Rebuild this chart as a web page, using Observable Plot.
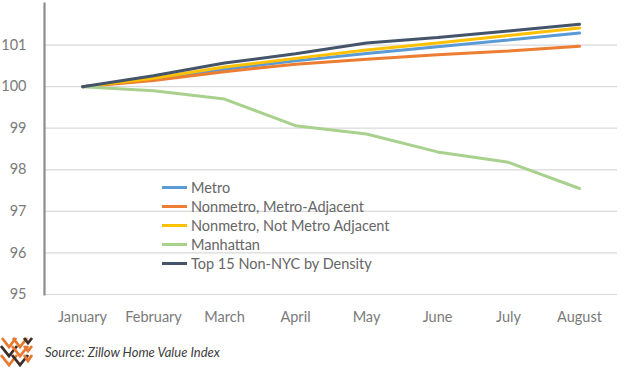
<!DOCTYPE html>
<html>
<head>
<meta charset="utf-8">
<script src="https://cdn.jsdelivr.net/npm/d3@7"></script>
<script src="https://cdn.jsdelivr.net/npm/@observablehq/plot@0.6"></script>
<style>
  html, body { margin: 0; padding: 0; background: #fff; }
  #wrap { position: relative; width: 624px; height: 368px; font-family: Lato, "Open Sans", sans-serif; }
  #legend { position: absolute; left: 162px; top: 178px; font-size: 14.5px; color: #666; }
  #legend .row { display: flex; align-items: center; height: 19px; }
  #legend .sw { width: 25px; height: 3px; margin-right: 4px; }
  #foot { position: absolute; left: 0; top: 336px; width: 624px; height: 32px; }
  #foot .src { position: absolute; left: 45px; top: 8px; font-style: italic; font-size: 13px; color: #404040; }
</style>
</head>
<body>
<div id="wrap">
  <div id="chart"></div>
  <div id="legend"></div>
  <div id="foot">
    <svg width="34" height="32" style="position:absolute;left:0;top:0">
      <g fill="none" stroke-width="2.8">
        <polyline points="2,2 9,11 16,2" stroke="#e8782f"/>
        <polyline points="13,2 20,11 27,2" stroke="#e8782f"/>
        <polyline points="24,2 28,7 32,2" stroke="#3b2e28"/>
        <polyline points="1,10 9,20 17,10" stroke="#3b2e28"/>
        <polyline points="12,10 20,20 28,10" stroke="#e8782f"/>
        <polyline points="24,10 28,15 32,10" stroke="#e8782f"/>
        <polyline points="1,19 9,29 17,19" stroke="#e8782f"/>
        <polyline points="12,19 20,29 28,19" stroke="#3b2e28"/>
        <polyline points="24,19 28,25 32,19" stroke="#e8782f"/>
      </g>
    </svg>
    <div class="src">Source: Zillow Home Value Index</div>
  </div>
</div>
<script>
const months = ["January","February","March","April","May","June","July","August"];
const seriesNames = ["Metro","Nonmetro, Metro-Adjacent","Nonmetro, Not Metro Adjacent","Manhattan","Top 15 Non-NYC by Density"];
const seriesColors = ["#5B9BD5","#ED7D31","#FFC000","#A9D18E","#44546A"];
const metro       = [100, 100.18, 100.42, 100.62, 100.80, 100.96, 101.12, 101.29];
const metroAdj    = [100, 100.15, 100.36, 100.54, 100.66, 100.77, 100.86, 100.97];
const notAdj      = [100, 100.20, 100.47, 100.68, 100.88, 101.05, 101.23, 101.41];
const manhattan   = [100, 99.90, 99.70, 99.06, 98.86, 98.43, 98.18, 97.55];
const top15       = [100, 100.26, 100.57, 100.79, 101.05, 101.18, 101.34, 101.50];
const yTicks = [95, 96, 97, 98, 99, 100, 101];

const seriesValues = [metro, metroAdj, notAdj, manhattan, top15];
const data = [];
seriesNames.forEach((name, i) => {
  months.forEach((m, j) => data.push({series: name, month: m, value: seriesValues[i][j]}));
});

const chart = Plot.plot({
  width: 624,
  height: 336,
  marginLeft: 44,
  marginRight: 7,
  marginTop: 3,
  marginBottom: 42,
  style: {fontFamily: "Lato, 'Open Sans', sans-serif", fontSize: "14px", color: "#666", background: "#fff"},
  x: {type: "point", domain: months, padding: 0.5, label: null},
  y: {domain: [95, 102], label: null},
  color: {domain: seriesNames, range: seriesColors},
  marks: [
    Plot.ruleY(yTicks, {stroke: "#d9d9d9", strokeWidth: 1.2}),
    Plot.frame({anchor: "left", stroke: "#8c8c8c", strokeWidth: 2.2}),
    Plot.axisY(yTicks, {tickSize: 0, tickPadding: 18, fill: "#7a7a7a", fontSize: 14.5}),
    Plot.axisX({tickSize: 0, tickPadding: 17, fill: "#7a7a7a", fontSize: 14.5}),
    Plot.line(data, {x: "month", y: "value", z: "series", stroke: "series", strokeWidth: 3, strokeLinejoin: "miter"})
  ]
});
document.getElementById("chart").appendChild(chart);

const legend = document.getElementById("legend");
seriesNames.forEach((name, i) => {
  const row = document.createElement("div");
  row.className = "row";
  row.innerHTML = `<div class="sw" style="background:${seriesColors[i]}"></div><span>${name}</span>`;
  legend.appendChild(row);
});
</script>
</body>
</html>
